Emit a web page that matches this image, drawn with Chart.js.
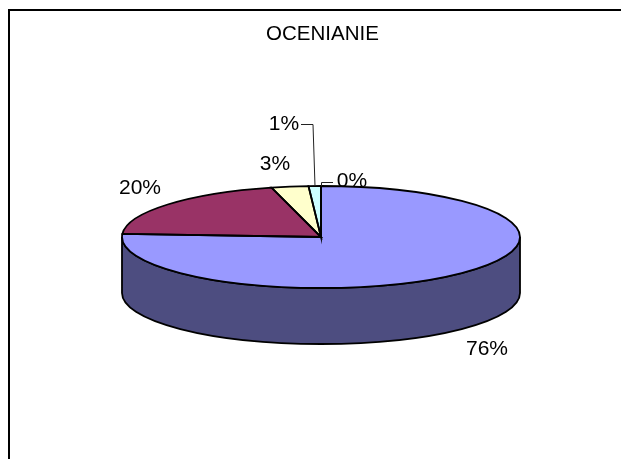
<!DOCTYPE html>
<html>
  <head>
    <meta charset="utf-8">
    <title>OCENIANIE</title>
    <script src="https://cdn.jsdelivr.net/npm/chart.js@4/dist/chart.umd.min.js"></script>
    <style>
      html, body { margin: 0; padding: 0; background: #fff; }
      canvas { display: block; }
    </style>
  </head>
  <body>
    <canvas id="myChart" width="621" height="459"></canvas>
    <script>
      const title = 'OCENIANIE';
      const categories = ['A', 'B', 'C', 'D', 'E'];
      const values = [76, 20, 3, 1, 0];

      const topColors = ['#9999FF', '#993366', '#FFFFCC', '#CCFFFF', '#660066'];
      const sideColors = ['#4D4D80', '#4D1A33', '#808066', '#668080', '#330033'];

      // squash of the pie and height of its wall
      const squash = 51 / 199;
      const depth = 56;
      // label centres, one per slice
      const labelPos = [[487, 349], [140, 188], [275, 164], [284, 124], [352, 181]];

      const pie3d = {
        id: 'pie3d',
        beforeDatasetDraw(chart) {
          const ctx = chart.ctx;
          const arcs = chart.getDatasetMeta(0).data;
          const { x, y, outerRadius } = arcs[0];
          const ry = outerRadius * squash;

          // wall, only the front half of the rim shows
          arcs.forEach((arc, i) => {
            const a0 = Math.max(arc.startAngle, 0);
            const a1 = Math.min(arc.endAngle, Math.PI);
            if (a1 <= a0) return;
            ctx.beginPath();
            ctx.ellipse(x, y, outerRadius, ry, 0, a0, a1);
            ctx.ellipse(x, y + depth, outerRadius, ry, 0, a1, a0, true);
            ctx.closePath();
            ctx.fillStyle = sideColors[i];
            ctx.fill();
            ctx.strokeStyle = '#000';
            ctx.lineWidth = 1.8;
            ctx.stroke();
          });

          ctx.save();
          ctx.translate(x, y);
          ctx.scale(1, squash);
          ctx.translate(-x, -y);
        },
        afterDatasetDraw(chart) {
          const ctx = chart.ctx;
          ctx.restore();

          const arcs = chart.getDatasetMeta(0).data;
          arcs.forEach((arc) => {
            if (arc.endAngle <= arc.startAngle) return;
            ctx.beginPath();
            ctx.moveTo(arc.x, arc.y);
            ctx.ellipse(arc.x, arc.y, arc.outerRadius, arc.outerRadius * squash, 0, arc.startAngle, arc.endAngle);
            ctx.closePath();
            ctx.strokeStyle = '#000';
            ctx.lineWidth = 1.8;
            ctx.stroke();
          });
        },
        afterDraw(chart) {
          const ctx = chart.ctx;

          // frame, only top and left are inside the window
          ctx.strokeStyle = '#000';
          ctx.lineWidth = 2;
          ctx.beginPath();
          ctx.moveTo(9, 459);
          ctx.lineTo(9, 10);
          ctx.lineTo(621, 10);
          ctx.stroke();

          // leader lines
          ctx.lineWidth = 1;
          ctx.strokeStyle = '#222';
          ctx.beginPath();
          ctx.moveTo(301, 124.5);
          ctx.lineTo(313, 124.5);
          ctx.lineTo(315, 186);
          ctx.moveTo(321.5, 186);
          ctx.lineTo(321.5, 182.5);
          ctx.lineTo(333, 182.5);
          ctx.stroke();

          ctx.fillStyle = '#000';
          ctx.textAlign = 'center';
          ctx.textBaseline = 'middle';
          ctx.font = '20.5px "Liberation Sans"';
          ctx.fillText(title, 322.5, 34);
          ctx.font = '21px "Liberation Sans"';
          values.forEach((v, i) => {
            ctx.fillText(v + '%', labelPos[i][0], labelPos[i][1]);
          });
        }
      };

      const myChart = new Chart(document.getElementById('myChart'), {
        type: 'pie',
        data: {
          labels: categories,
          datasets: [{
            data: values,
            backgroundColor: topColors,
            borderWidth: 0
          }]
        },
        plugins: [pie3d],
        options: {
          responsive: false,
          animation: false,
          layout: { padding: { left: 122, right: 101, top: 38, bottom: 23 } },
          plugins: {
            legend: { display: false },
            tooltip: { enabled: false }
          }
        }
      });
    </script>
  </body>
</html>
